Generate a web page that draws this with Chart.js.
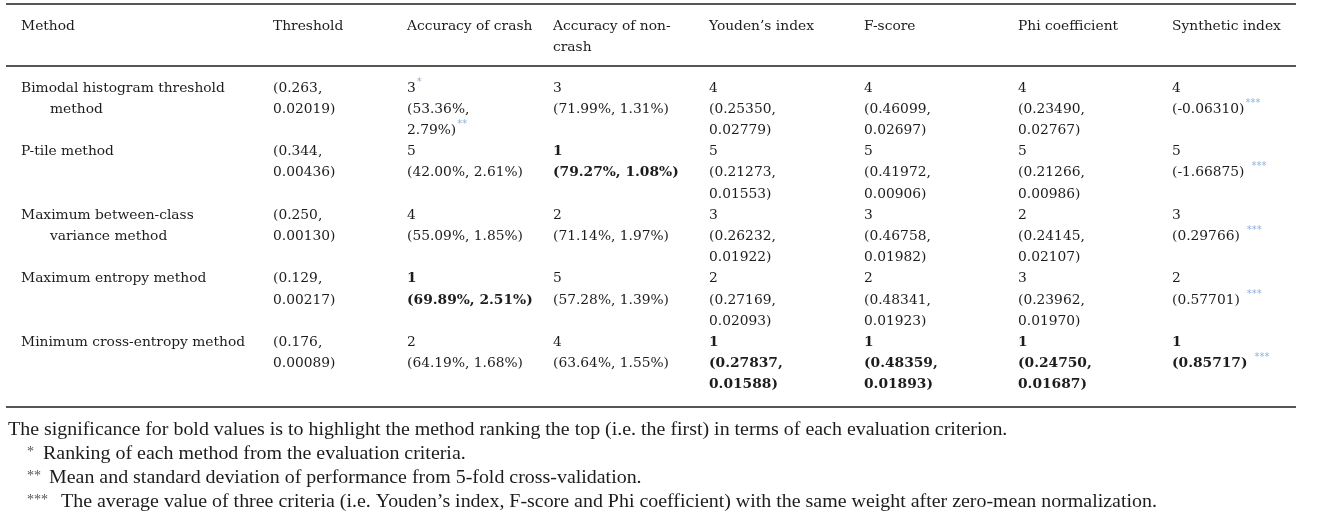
<!DOCTYPE html>
<html>
<head>
<meta charset="utf-8">
<title>Comparison of threshold methods</title>
<script src="https://cdn.jsdelivr.net/npm/chart.js@4.4.1/dist/chart.umd.min.js"></script>
<style>
  html, body { margin: 0; padding: 0; background: #ffffff; }
  #tableChartContainer { position: relative; width: 1331px; height: 518px; }
</style>
</head>
<body>
<div id="tableChartContainer"><canvas id="tableChart"></canvas></div>
<script>
const columnHeaders = [
  ["Method"],
  ["Threshold"],
  ["Accuracy of crash"],
  ["Accuracy of non-", "crash"],
  ["Youden\u2019s index"],
  ["F-score"],
  ["Phi coefficient"],
  ["Synthetic index"]
];

const methodNames = [
  ["Bimodal histogram threshold", "method"],
  ["P-tile method"],
  ["Maximum between-class", "variance method"],
  ["Maximum entropy method"],
  ["Minimum cross-entropy method"]
];

const thresholdMean = ["0.263", "0.344", "0.250", "0.129", "0.176"];
const thresholdSd = ["0.02019", "0.00436", "0.00130", "0.00217", "0.00089"];

const crashRank = [3, 5, 4, 1, 2];
const crashMean = ["53.36%", "42.00%", "55.09%", "69.89%", "64.19%"];
const crashSd = ["2.79%", "2.61%", "1.85%", "2.51%", "1.68%"];

const nonCrashRank = [3, 1, 2, 5, 4];
const nonCrashMean = ["71.99%", "79.27%", "71.14%", "57.28%", "63.64%"];
const nonCrashSd = ["1.31%", "1.08%", "1.97%", "1.39%", "1.55%"];

const youdenRank = [4, 5, 3, 2, 1];
const youdenMean = ["0.25350", "0.21273", "0.26232", "0.27169", "0.27837"];
const youdenSd = ["0.02779", "0.01553", "0.01922", "0.02093", "0.01588"];

const fScoreRank = [4, 5, 3, 2, 1];
const fScoreMean = ["0.46099", "0.41972", "0.46758", "0.48341", "0.48359"];
const fScoreSd = ["0.02697", "0.00906", "0.01982", "0.01923", "0.01893"];

const phiRank = [4, 5, 2, 3, 1];
const phiMean = ["0.23490", "0.21266", "0.24145", "0.23962", "0.24750"];
const phiSd = ["0.02767", "0.00986", "0.02107", "0.01970", "0.01687"];

const syntheticRank = [4, 5, 3, 2, 1];
const syntheticValue = ["-0.06310", "-1.66875", "0.29766", "0.57701", "0.85717"];

// footnote markers attached to cells
const crashRankNote = ["*", "", "", "", ""];
const crashValueNote = ["**", "", "", "", ""];
const syntheticNote = ["***", "***", "***", "***", "***"];
const syntheticNoteSpaced = [false, true, true, true, true];

const footnoteLead = "The significance for bold values is to highlight the method ranking the top (i.e. the first) in terms of each evaluation criterion.";
const footnoteMarks = ["*", "**", "***"];
const footnoteTexts = [
  "Ranking of each method from the evaluation criteria.",
  "Mean and standard deviation of performance from 5-fold cross-validation.",
  "The average value of three criteria (i.e. Youden\u2019s index, F-score and Phi coefficient) with the same weight after zero-mean normalization."
];

// ---- layout (page units, mapped through the chart scales) ----
const colLeft = [21, 273, 407, 553, 709, 864, 1018, 1172];
const methodIndent = 29;
const ruleLeft = 6;
const ruleRight = 1296;
const ruleTopY = 4;
const ruleHeadY = 66;
const ruleBottomY = 407;
const headerLineY = [26, 47];
const firstRowY = 88;
const rowStep = 63.6;
const lineStep = 21.2;
const footnoteY = [430, 454, 478, 502];
const footnoteLeadX = 8;
const footnoteMarkX = 27;
const footnoteTextX = [43, 49, 61];
const footnoteStretch = 1.107;

const TEXT_COLOR = "#1c1c1c";
const NOTE_COLOR = "#8fb3dc";
const RULE_COLOR = "#1e1e1e";
const TABLE_FONT = "\"DejaVu Serif\"";
const TABLE_SIZE = "13.8px ";
const FOOT_FONT = "\"Liberation Serif\"";

const valueColumns = [
  { col: 1, rank: null, mean: thresholdMean, sd: thresholdSd, wrap: true },
  { col: 2, rank: crashRank, mean: crashMean, sd: crashSd, wrap: false, rankNote: crashRankNote, valueNote: crashValueNote },
  { col: 3, rank: nonCrashRank, mean: nonCrashMean, sd: nonCrashSd, wrap: false },
  { col: 4, rank: youdenRank, mean: youdenMean, sd: youdenSd, wrap: true },
  { col: 5, rank: fScoreRank, mean: fScoreMean, sd: fScoreSd, wrap: true },
  { col: 6, rank: phiRank, mean: phiMean, sd: phiSd, wrap: true }
];

function drawRun(ctx, x, y, text, bold, note, noteGap) {
  ctx.font = (bold ? "bold " : "") + TABLE_SIZE + TABLE_FONT;
  ctx.fillStyle = TEXT_COLOR;
  ctx.fillText(text, x, y);

  if (note) {
    const w = ctx.measureText(text).width + (noteGap ? 7 : 1);
    ctx.font = "10px \"DejaVu Sans\"";
    ctx.fillStyle = NOTE_COLOR;
    ctx.fillText(note, x + w, y - 6);
  }
}

// footnote text is set a little wider than Liberation Serif
function drawStretched(ctx, x, y, text) {
  ctx.save();
  ctx.translate(x, y);
  ctx.scale(footnoteStretch, 1);
  ctx.fillText(text, 0, 0);
  ctx.restore();
}

const tablePlugin = {
  id: "tableDrawer",
  afterDraw(chart) {
    const ctx = chart.ctx;
    const sx = chart.scales.x;
    const sy = chart.scales.y;
    const px = (v) => sx.getPixelForValue(v);
    const py = (v) => sy.getPixelForValue(v);

    ctx.save();

    // horizontal rules
    ctx.strokeStyle = RULE_COLOR;
    ctx.lineWidth = 1.5;
    [ruleTopY, ruleHeadY, ruleBottomY].forEach((ry) => {
      ctx.beginPath();
      ctx.moveTo(px(ruleLeft), py(ry));
      ctx.lineTo(px(ruleRight), py(ry));
      ctx.stroke();
    });

    ctx.textBaseline = "middle";
    ctx.textAlign = "left";

    // header
    columnHeaders.forEach((lines, c) => {
      lines.forEach((line, i) => {
        drawRun(ctx, px(colLeft[c]), py(headerLineY[i]), line, false);
      });
    });

    // body rows
    methodNames.forEach((nameLines, r) => {
      const top = firstRowY + r * rowStep;

      nameLines.forEach((line, i) => {
        const x = colLeft[0] + (i > 0 ? methodIndent : 0);
        drawRun(ctx, px(x), py(top + i * lineStep), line, false);
      });

      valueColumns.forEach((vc) => {
        const x = px(colLeft[vc.col]);
        const bold = vc.rank ? vc.rank[r] === 1 : false;
        let line = 0;

        if (vc.rank) {
          drawRun(ctx, x, py(top), String(vc.rank[r]), bold, vc.rankNote ? vc.rankNote[r] : "");
          line = 1;
        }

        const valueNote = vc.valueNote ? vc.valueNote[r] : "";

        if (vc.wrap || valueNote) {
          drawRun(ctx, x, py(top + line * lineStep), "(" + vc.mean[r] + ",", bold);
          drawRun(ctx, x, py(top + (line + 1) * lineStep), vc.sd[r] + ")", bold, valueNote);
        } else {
          drawRun(ctx, x, py(top + line * lineStep), "(" + vc.mean[r] + ", " + vc.sd[r] + ")", bold);
        }
      });

      // synthetic index
      const sxPix = px(colLeft[7]);
      const sBold = syntheticRank[r] === 1;
      drawRun(ctx, sxPix, py(top), String(syntheticRank[r]), sBold);
      drawRun(ctx, sxPix, py(top + lineStep), "(" + syntheticValue[r] + ")", sBold, syntheticNote[r], syntheticNoteSpaced[r]);
    });

    // footnotes
    ctx.fillStyle = TEXT_COLOR;
    ctx.font = "18px " + FOOT_FONT;
    drawStretched(ctx, px(footnoteLeadX), py(footnoteY[0]), footnoteLead);

    footnoteTexts.forEach((text, i) => {
      const y = py(footnoteY[i + 1]);
      ctx.font = "14px " + FOOT_FONT;
      ctx.fillStyle = "#555555";
      ctx.fillText(footnoteMarks[i], px(footnoteMarkX), y - 2);
      ctx.font = "18px " + FOOT_FONT;
      ctx.fillStyle = TEXT_COLOR;
      drawStretched(ctx, px(footnoteTextX[i]), y, text);
    });

    ctx.restore();
  }
};

new Chart(document.getElementById("tableChart"), {
  type: "scatter",
  data: { datasets: [] },
  options: {
    responsive: true,
    maintainAspectRatio: false,
    animation: false,
    devicePixelRatio: 1,
    layout: { padding: 0 },
    events: [],
    plugins: {
      legend: { display: false },
      tooltip: { enabled: false },
      title: { display: false }
    },
    scales: {
      x: { type: "linear", min: 0, max: 1331, display: false },
      y: { type: "linear", min: 0, max: 518, reverse: true, display: false }
    }
  },
  plugins: [tablePlugin]
});
</script>
</body>
</html>
